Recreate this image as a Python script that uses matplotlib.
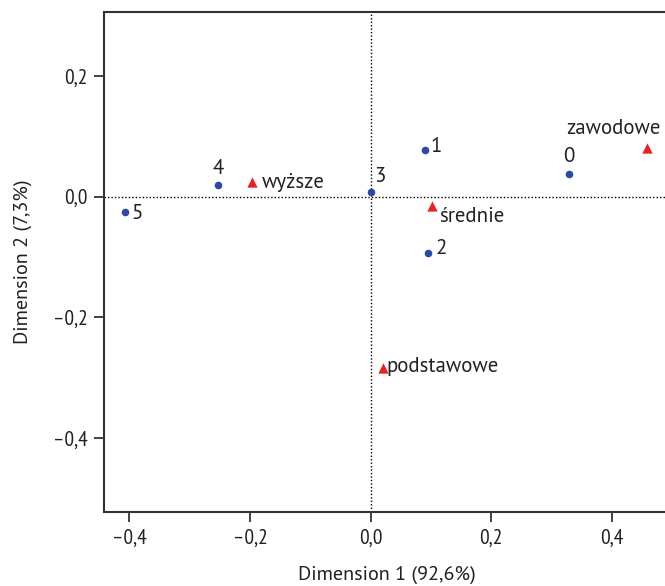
import numpy as np
import matplotlib
matplotlib.use("Agg")
import matplotlib.pyplot as plt
from matplotlib.ticker import FixedLocator, FuncFormatter

# punkty wierszy (liczby) i kolumn (wyksztalcenie)
row_labels = ["0", "1", "2", "3", "4", "5"]
row_x = [0.329, 0.090, 0.095, 0.000, -0.253, -0.408]
row_y = [0.037, 0.077, -0.094, 0.008, 0.020, -0.025]

col_labels = ["zawodowe", "średnie", "wyższe", "podstawowe"]
col_x = [0.458, 0.102, -0.196, 0.020]
col_y = [0.080, -0.016, 0.024, -0.285]

ticks = [-0.4, -0.2, 0.0, 0.2, 0.4]

plt.rcParams['font.family'] = ['PT Sans Narrow', 'DejaVu Sans']

fig = plt.figure(figsize=(6.65, 5.86), dpi=100)
ax = fig.add_axes([0.1564, 0.1263, 0.8498, 0.8532])

ax.axhline(0, color="black", lw=1, ls=(0, (1, 1.5)), zorder=1)
ax.axvline(0, color="black", lw=1, ls=(0, (1, 1.5)), zorder=1)

ax.scatter(row_x, row_y, marker="o", s=30, color="#2b48a6", zorder=3, linewidths=0)
ax.scatter(col_x, col_y, marker="^", s=55, color="#e82222", zorder=3, linewidths=0)

lab_font = dict(family=['PT Sans', 'DejaVu Sans'], fontsize=15, color="#222222")

# offsety etykiet w pikselach
row_off = {"0": (0, 8, "center", "bottom"), "1": (6, 4, "left", "center"),
           "2": (8, 5, "left", "center"), "3": (4, 6, "left", "bottom"),
           "4": (0, 7, "center", "bottom"), "5": (7, -2, "left", "center")}
for lab, x, y in zip(row_labels, row_x, row_y):
    dx, dy, ha, va = row_off[lab]
    ax.annotate(lab, (x, y), xytext=(dx, dy), textcoords="offset pixels",
                ha=ha, va=va, **lab_font)

col_off = {"zawodowe": (-33, 20, "center", "center"), "średnie": (7, -10, "left", "center"),
           "wyższe": (9, 0, "left", "center"), "podstawowe": (4, 2, "left", "center")}
for lab, x, y in zip(col_labels, col_x, col_y):
    dx, dy, ha, va = col_off[lab]
    ax.annotate(lab, (x, y), xytext=(dx, dy), textcoords="offset pixels",
                ha=ha, va=va, **lab_font)

ax.set_xlim(-0.442, 0.495)
ax.set_ylim(-0.523, 0.306)

def fmt(v, pos):
    s = "%.1f" % v
    if s == "-0.0":
        s = "0.0"
    return s.replace("-", "\u2013").replace(".", ",")

ax.xaxis.set_major_locator(FixedLocator(ticks))
ax.yaxis.set_major_locator(FixedLocator(ticks))
ax.xaxis.set_major_formatter(FuncFormatter(fmt))
ax.yaxis.set_major_formatter(FuncFormatter(fmt))
ax.tick_params(direction="out", length=7, width=1.2, labelsize=15.5, pad=5, colors="#222222")

for sp in ax.spines.values():
    sp.set_linewidth(1.5)
    sp.set_color("#333333")

ax.set_xlabel("Dimension 1 (92,6%)", family=['PT Sans', 'DejaVu Sans'], fontsize=14.5,
              color="#222222", labelpad=13)
ax.set_ylabel("Dimension 2 (7,3%)", family=['PT Sans', 'DejaVu Sans'], fontsize=14.5,
              color="#222222", labelpad=15)

fig.savefig("out.png", dpi=100)
